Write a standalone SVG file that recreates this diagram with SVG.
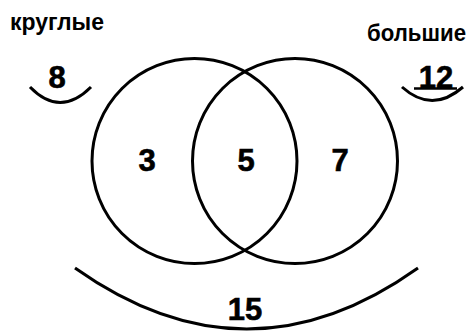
<svg xmlns="http://www.w3.org/2000/svg" width="474" height="331" viewBox="0 0 474 331">
<style>
.c{fill:none;stroke:#000;stroke-width:3}
.t{font-family:"Liberation Sans",Arial,sans-serif;font-weight:bold;fill:#000}
.n{font-size:31px;text-anchor:middle;stroke:#000;stroke-width:0.6}
.l{font-size:24px}
</style>
<rect width="474" height="331" fill="#fff"/>
<g id="circle-round">
<circle class="c" cx="194.5" cy="161" r="102.5"/>
</g>
<g id="circle-big">
<circle class="c" cx="295" cy="161" r="102.5"/>
</g>
<g id="connectors">
<path class="c" d="M30,87 Q60,118 91,87"/>
<path class="c" d="M402,87 Q432,114 463,87"/>
<path class="c" d="M75,268 Q247,390 418,268"/>
</g>
<g id="label-round"><text class="t l" x="10" y="30" textLength="94" lengthAdjust="spacingAndGlyphs">круглые</text></g>
<g id="label-big"><text class="t l" x="367" y="41" textLength="99" lengthAdjust="spacingAndGlyphs">большие</text></g>
<g id="count-round"><text class="t n" x="57" y="88">8</text></g>
<g id="count-big"><text class="t n" x="436" y="88">12</text><line x1="414" y1="88.5" x2="457" y2="88.5" stroke="#000" stroke-width="2.5"/></g>
<g id="only-round"><text class="t n" x="147" y="171">3</text></g>
<g id="both"><text class="t n" x="246" y="171">5</text></g>
<g id="only-big"><text class="t n" x="340" y="171">7</text></g>
<g id="total"><text class="t n" x="245" y="320">15</text></g>
</svg>
